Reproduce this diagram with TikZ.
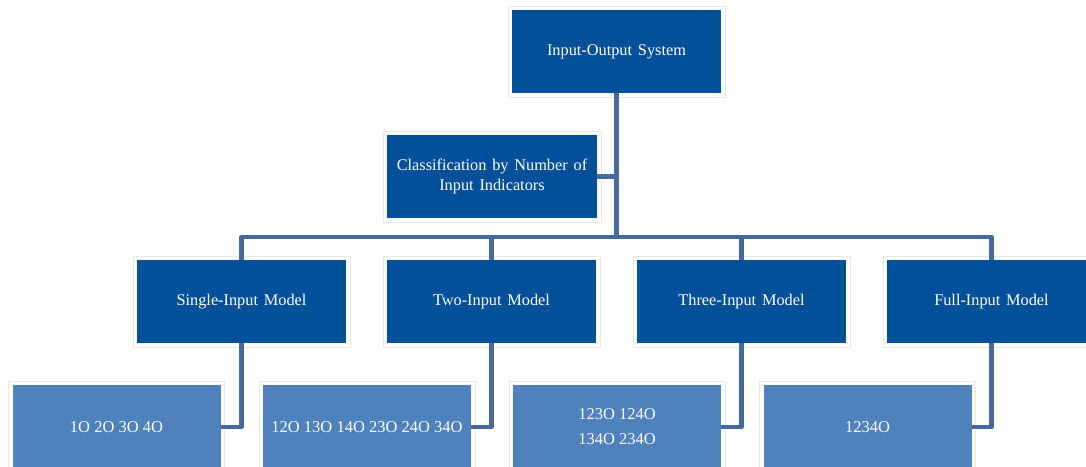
\documentclass[tikz,border=0pt]{standalone}
\usepackage{fontspec}
\setmainfont{Liberation Serif}
\definecolor{dkblue}{RGB}{2,79,154}
\definecolor{ltblue}{RGB}{79,129,189}
\definecolor{linec}{RGB}{70,106,158}
\definecolor{framec}{RGB}{232,232,232}
\newcommand{\myboxfont}{\fontsize{16.3}{20.5}\selectfont\spaceskip=5.8pt plus 1pt minus 1pt\relax}
\newcommand{\mylboxfont}{\fontsize{16.5}{25}\selectfont}
\begin{document}
\begin{tikzpicture}[x=1pt,y=-1pt,
  box/.style={fill=dkblue, text=white, minimum width=209pt, minimum height=83pt,
    inner sep=0pt, outer sep=0pt, align=center, font=\myboxfont},
  lbox/.style={box, fill=ltblue, minimum width=208pt, minimum height=84pt,
    font=\mylboxfont},
  framebox/.style={draw=framec, line width=0.7pt},
  conn/.style={draw=linec, line width=4.5pt, line join=round}]
\useasboundingbox (0,0) rectangle (1086,466);
\node[box] (top) at (616.5,51.5) {Input-Output System};
\node[box, minimum width=210pt] (cls) at (492,176.5) {Classification by Number of\\Input Indicators};
\node[box] (s1) at (241.5,301.5) {Single-Input Model};
\node[box] (s2) at (491.5,301.5) {Two-Input Model};
\node[box] (s3) at (741.5,301.5) {Three-Input Model};
\node[box] (s4) at (991.5,301.5) {Full-Input Model};
\node[lbox] (l1) at (116.5,427) {1O 2O 3O 4O};
\node[lbox] (l2) at (367,427) {12O 13O 14O 23O 24O 34O};
\node[lbox] (l3) at (617,427) {123O 124O\\134O 234O};
\node[lbox] (l4) at (867.5,427) {1234O};
\foreach \n in {top,cls,s1,s2,s3,s4,l1,l2,l3,l4}
  \draw[framebox] ([shift={(-4,-4)}]\n.north west) rectangle ([shift={(4,4)}]\n.south east);
\coordinate (barL) at (241.5,237);
\draw[conn] (top.south) -- (top.south |- barL);
\draw[conn] (cls.east) -- (cls.east -| top.south);
\draw[conn] (s1.north) -- (s1.north |- barL) -- (s4.north |- barL) -- (s4.north);
\draw[conn] (s2.north) -- (s2.north |- barL);
\draw[conn] (s3.north) -- (s3.north |- barL);
\draw[conn] (s1.south) |- (l1.east);
\draw[conn] (s2.south) |- (l2.east);
\draw[conn] (s3.south) |- (l3.east);
\draw[conn] (s4.south) |- (l4.east);
\end{tikzpicture}
\end{document}
